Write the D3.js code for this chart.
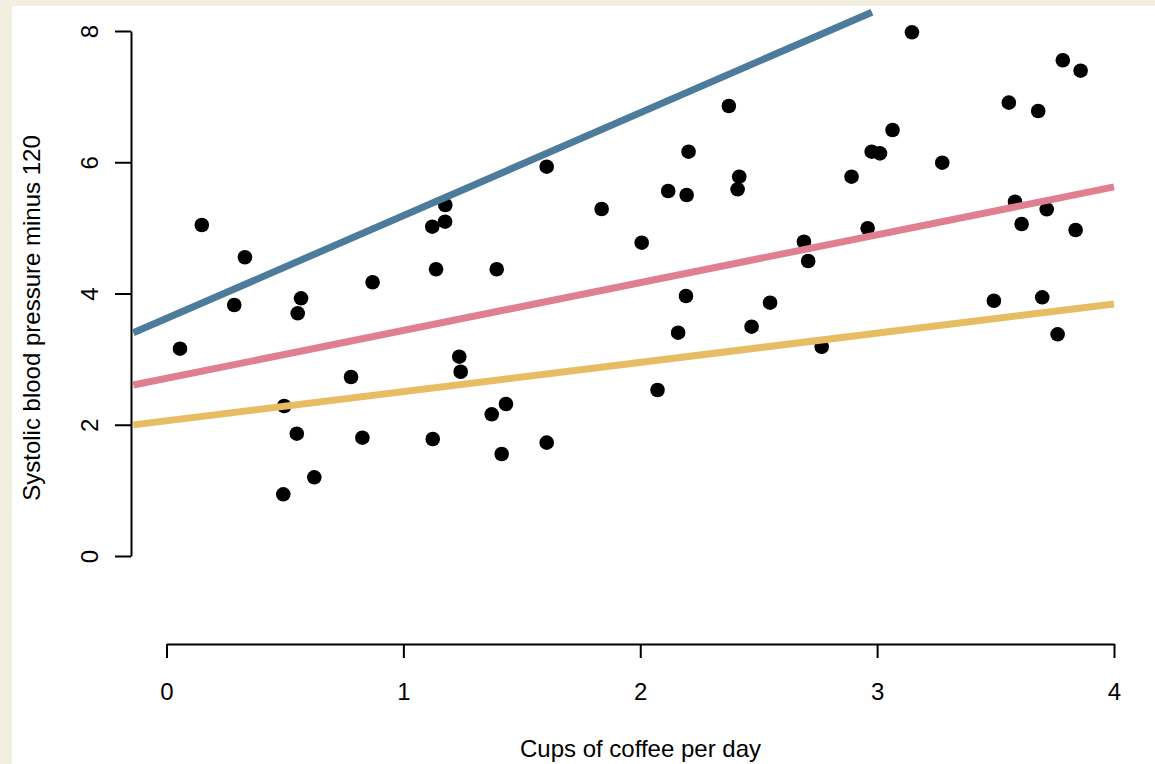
<!DOCTYPE html>
<html>
<head>
<meta charset="utf-8">
<script src="https://cdn.jsdelivr.net/npm/d3@7"></script>
<style>
  html, body { margin: 0; padding: 0; background: #f3efe0; }
  svg { display: block; }
  text { font-family: "Liberation Sans", Arial, Helvetica, sans-serif; fill: #000; }
</style>
</head>
<body>
<svg id="chart" width="1155" height="764"></svg>
<script>
// Cups of coffee per day (x) and systolic blood pressure minus 120 (y)
const cups = [
  0.149, 0.331, 0.286, 0.568, 0.554, 0.057, 0.870, 0.779, 0.497, 0.550,
  0.827, 0.624, 0.493, 1.605, 1.177, 1.176, 1.122, 1.837, 2.374, 2.204,
  2.418, 2.411, 2.118, 2.196, 2.006, 3.147, 3.784, 3.859, 3.556, 3.680,
  3.065, 2.977, 3.012, 2.892, 3.275, 3.582, 3.716, 3.610, 3.838, 2.960,
  2.691, 2.709, 1.138, 1.394, 2.193, 2.548, 2.160, 2.470, 1.236, 1.242,
  2.073, 1.433, 1.373, 1.124, 1.605, 1.415, 2.766, 3.493, 3.697, 3.762
];
const pressure = [
  5.044, 4.552, 3.825, 3.927, 3.698, 3.159, 4.171, 2.728, 2.286, 1.864,
  1.803, 1.199, 0.940, 5.932, 5.349, 5.094, 5.018, 5.288, 6.857, 6.161,
  5.780, 5.588, 5.562, 5.501, 4.774, 7.980, 7.554, 7.395, 6.908, 6.781,
  6.491, 6.161, 6.136, 5.780, 5.993, 5.399, 5.283, 5.059, 4.968, 4.994,
  4.789, 4.495, 4.369, 4.369, 3.962, 3.860, 3.403, 3.494, 3.037, 2.808,
  2.530, 2.316, 2.159, 1.783, 1.727, 1.554, 3.189, 3.890, 3.942, 3.378
];

// Fitted lines: intercept, slope and x extent of each segment
const lineNames   = ["upper", "middle", "lower"];
const intercepts  = [3.62, 2.708, 2.06];
const slopes      = [1.567, 0.729, 0.445];
const lineStartX  = [-0.14, -0.14, -0.14];
const lineEndX    = [2.978, 4.0, 4.0];
const lineColors  = ["#4d7b9b", "#df7f8f", "#e6bd63"];

const xTicks = [0, 1, 2, 3, 4];
const yTicks = [0, 2, 4, 6, 8];
const xTitle = "Cups of coffee per day";
const yTitle = "Systolic blood pressure minus 120";

const svg = d3.select("#chart");

// white panel inside the beige frame
svg.append("rect")
  .attr("x", 12).attr("y", 6)
  .attr("width", 1155 - 12).attr("height", 764 - 6)
  .attr("fill", "#ffffff");

const x = d3.scaleLinear().domain([0, 4]).range([166.5, 1114]);
const y = d3.scaleLinear().domain([0, 8]).range([556, 31]);

// x axis
const xAxis = svg.append("g")
  .attr("transform", "translate(0,644)")
  .call(d3.axisBottom(x).tickValues(xTicks).tickFormat(d3.format("d"))
    .tickSize(14).tickSizeOuter(0).tickPadding(25));
xAxis.select(".domain").attr("stroke", "#000").attr("stroke-width", 2);
xAxis.selectAll(".tick line").attr("stroke", "#000").attr("stroke-width", 2);
xAxis.selectAll(".tick text")
  .attr("font-size", 24)
  .attr("font-family", "'Liberation Sans', Arial, sans-serif");

// y axis with rotated labels
const yAxis = svg.append("g")
  .attr("transform", "translate(131,0)")
  .call(d3.axisLeft(y).tickValues(yTicks).tickFormat(d3.format("d"))
    .tickSize(16).tickSizeOuter(0));
yAxis.select(".domain").attr("stroke", "#000").attr("stroke-width", 2);
yAxis.selectAll(".tick line").attr("stroke", "#000").attr("stroke-width", 2);
yAxis.selectAll(".tick text")
  .attr("x", null).attr("dy", null)
  .attr("text-anchor", "middle")
  .attr("transform", "translate(-33,0) rotate(-90)")
  .attr("font-size", 24)
  .attr("font-family", "'Liberation Sans', Arial, sans-serif");

// axis titles
svg.append("text")
  .attr("x", 640.5).attr("y", 757)
  .attr("text-anchor", "middle")
  .attr("font-size", 24)
  .text(xTitle);

svg.append("text")
  .attr("transform", "translate(40,318) rotate(-90)")
  .attr("text-anchor", "middle")
  .attr("font-size", 24)
  .text(yTitle);

// observations
const points = cups.map((c, i) => ({ c, p: pressure[i] }));
svg.append("g")
  .selectAll("circle")
  .data(points)
  .join("circle")
  .attr("cx", d => x(d.c))
  .attr("cy", d => y(d.p))
  .attr("r", 7.3)
  .attr("fill", "#000");

// regression lines drawn over the points
const segments = lineNames.map((name, i) => ({
  name,
  x0: lineStartX[i], x1: lineEndX[i],
  y0: intercepts[i] + slopes[i] * lineStartX[i],
  y1: intercepts[i] + slopes[i] * lineEndX[i],
  color: lineColors[i]
}));
svg.append("g")
  .selectAll("line")
  .data(segments)
  .join("line")
  .attr("x1", d => x(d.x0)).attr("y1", d => y(d.y0))
  .attr("x2", d => x(d.x1)).attr("y2", d => y(d.y1))
  .attr("stroke", d => d.color)
  .attr("stroke-width", 7)
  .attr("stroke-linecap", "butt");
</script>
</body>
</html>
